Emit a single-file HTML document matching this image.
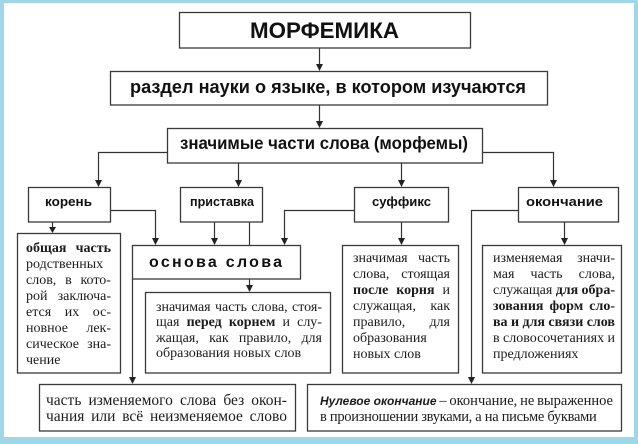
<!DOCTYPE html>
<html><head><meta charset="utf-8">
<style>
html,body{margin:0;padding:0;}
body{width:638px;height:444px;position:relative;overflow:hidden;background:#9fd7e9;}
svg{position:absolute;left:0;top:0;}
.t{position:absolute;font-family:"Liberation Serif","DejaVu Serif",serif;font-size:14px;line-height:14px;color:#1c1c1c;white-space:nowrap;}
.j{display:flex;justify-content:space-between;}
.b{font-weight:bold;}
.L{font-size:15.5px;line-height:15.5px;}
.R{font-size:14.5px;line-height:14.5px;}
.s{font-family:"Liberation Sans",Arial,sans-serif;font-weight:bold;font-style:italic;font-size:12px;}
</style></head>
<body>
<svg width="638" height="444" viewBox="0 0 638 444" xmlns="http://www.w3.org/2000/svg">
<rect x="0" y="0" width="638" height="444" fill="#9fd7e9"/>
<rect x="4" y="3" width="630" height="434" fill="#ffffff"/>
<g fill="#fff" stroke="#3a3a3a" stroke-width="1.3">
<rect x="179.5" y="12.5" width="291" height="35.5"/>
<rect x="110.5" y="71.5" width="437" height="33.5"/>
<rect x="167.5" y="128.5" width="315" height="34.5"/>
<rect x="28.5" y="187.5" width="82" height="34.5"/>
<rect x="180.5" y="187.5" width="82" height="34.5"/>
<rect x="354.5" y="187.5" width="94" height="34.5"/>
<rect x="518.5" y="187.5" width="100" height="34.5"/>
<rect x="17.5" y="233.5" width="103" height="139.5"/>
<rect x="132.5" y="245.5" width="168" height="33.5"/>
<rect x="145.5" y="292.5" width="185" height="80.5"/>
<rect x="342.5" y="245.5" width="116" height="127.5"/>
<rect x="482.5" y="245.5" width="139" height="127.5"/>
<rect x="39.5" y="384.5" width="256" height="46.5"/>
<rect x="307.5" y="384.5" width="314" height="46.5"/>
</g>
<g fill="none" stroke="#333" stroke-width="1.2">
<polyline points="319.5,48 319.5,65"/>
<polyline points="319.5,105 319.5,122"/>
<polyline points="167,152.5 98.5,152.5 98.5,181"/>
<polyline points="483,152.5 553.5,152.5 553.5,181"/>
<polyline points="238.5,163 238.5,181"/>
<polyline points="401.5,163 401.5,181"/>
<polyline points="52.5,222 52.5,228"/>
<polyline points="111,210.5 155.5,210.5 155.5,239"/>
<polyline points="214.5,222 214.5,239"/>
<polyline points="249.5,222 249.5,245"/>
<polyline points="354,210.5 284.5,210.5 284.5,239"/>
<polyline points="401.5,222 401.5,239"/>
<polyline points="564.5,222 564.5,239"/>
<polyline points="249.5,279 249.5,286"/>
<polyline points="132.5,279 132.5,378"/>
<polyline points="518,210.5 471.5,210.5 471.5,378"/>
</g>
<g fill="#222">
<polygon points="316,64 323,64 319.5,71"/>
<polygon points="316,121 323,121 319.5,128"/>
<polygon points="95,180 102,180 98.5,187"/>
<polygon points="550,180 557,180 553.5,187"/>
<polygon points="235,180 242,180 238.5,187"/>
<polygon points="398,180 405,180 401.5,187"/>
<polygon points="49,227 56,227 52.5,233"/>
<polygon points="152,238 159,238 155.5,245"/>
<polygon points="211,238 218,238 214.5,245"/>
<polygon points="281,238 288,238 284.5,245"/>
<polygon points="398,238 405,238 401.5,245"/>
<polygon points="561,238 568,238 564.5,245"/>
<polygon points="246,285 253,285 249.5,292"/>
<polygon points="129,377 136,377 132.5,384"/>
<polygon points="468,377 475,377 471.5,384"/>
</g>
<g font-family="'Liberation Sans', Arial, sans-serif" font-weight="bold" fill="#111">
<text x="250" y="38" font-size="22" textLength="149" lengthAdjust="spacingAndGlyphs">МОРФЕМИКА</text>
<text x="130" y="93" font-size="18.5" textLength="396" lengthAdjust="spacingAndGlyphs">раздел науки о языке, в котором изучаются</text>
<text x="180" y="149" font-size="17.5" textLength="288" lengthAdjust="spacingAndGlyphs">значимые части слова (морфемы)</text>
<text x="45" y="206" font-size="13" textLength="47" lengthAdjust="spacingAndGlyphs">корень</text>
<text x="190" y="206" font-size="13" textLength="64" lengthAdjust="spacingAndGlyphs">приставка</text>
<text x="372" y="206" font-size="13" textLength="59" lengthAdjust="spacingAndGlyphs">суффикс</text>
<text x="526" y="206" font-size="13" textLength="77" lengthAdjust="spacingAndGlyphs">окончание</text>
<text x="149" y="267" font-size="16" textLength="133" lengthAdjust="spacing">основа слова</text>
</g>
</svg>

<!-- корень definition -->
<div class="t j" style="left:26px;top:242.3px;width:85px"><span class="b">общая</span><span class="b">часть</span></div>
<div class="t" style="left:26px;top:258.2px">родственных</div>
<div class="t j" style="left:26px;top:274.1px;width:85px"><span>слов,</span><span>в</span><span>кото-</span></div>
<div class="t j" style="left:26px;top:290px;width:85px"><span>рой</span><span>заключа-</span></div>
<div class="t j" style="left:26px;top:305.9px;width:85px"><span>ется</span><span>их</span><span>ос-</span></div>
<div class="t j" style="left:26px;top:321.8px;width:85px"><span>новное</span><span>лек-</span></div>
<div class="t j" style="left:26px;top:337.7px;width:85px"><span>сическое</span><span>зна-</span></div>
<div class="t" style="left:26px;top:353.6px">чение</div>

<!-- приставка definition -->
<div class="t j" style="left:156px;top:300.8px;width:166px"><span>значимая</span><span>часть</span><span>слова,</span><span>стоя-</span></div>
<div class="t j" style="left:156px;top:316.3px;width:166px"><span>щая</span><span class="b">перед</span><span class="b">корнем</span><span>и</span><span>слу-</span></div>
<div class="t j" style="left:156px;top:331.8px;width:166px"><span>жащая,</span><span>как</span><span>правило,</span><span>для</span></div>
<div class="t" style="left:156px;top:347.3px">образования новых слов</div>

<!-- суффикс definition -->
<div class="t j" style="left:353px;top:251.8px;width:97px"><span>значимая</span><span>часть</span></div>
<div class="t j" style="left:353px;top:267.8px;width:97px"><span>слова,</span><span>стоящая</span></div>
<div class="t j" style="left:353px;top:283.8px;width:97px"><span class="b">после</span><span class="b">корня</span><span>и</span></div>
<div class="t j" style="left:353px;top:299.8px;width:97px"><span>служащая,</span><span>как</span></div>
<div class="t j" style="left:353px;top:315.8px;width:97px"><span>правило,</span><span>для</span></div>
<div class="t" style="left:353px;top:331.8px">образования</div>
<div class="t" style="left:353px;top:347.8px">новых слов</div>

<!-- окончание definition -->
<div class="t j" style="left:493px;top:251.8px;width:122px"><span>изменяемая</span><span>значи-</span></div>
<div class="t j" style="left:493px;top:267.8px;width:122px"><span>мая</span><span>часть</span><span>слова,</span></div>
<div class="t j" style="left:493px;top:283.8px;width:122px"><span>служащая</span><span class="b">для</span><span class="b">обра-</span></div>
<div class="t j" style="left:493px;top:299.8px;width:122px"><span class="b">зования</span><span class="b">форм</span><span class="b">сло-</span></div>
<div class="t j" style="left:493px;top:315.8px;width:122px"><span class="b">ва</span><span class="b">и</span><span class="b">для</span><span class="b">связи</span><span class="b">слов</span></div>
<div class="t j" style="left:493px;top:331.8px;width:122px"><span>в</span><span>словосочетаниях</span><span>и</span></div>
<div class="t" style="left:493px;top:347.8px">предложениях</div>

<!-- bottom-left -->
<div class="t L j" style="left:46px;top:392.5px;width:241px"><span>часть</span><span>изменяемого</span><span>слова</span><span>без</span><span>окон-</span></div>
<div class="t L j" style="left:46px;top:409px;width:241px"><span>чания</span><span>или</span><span>всё</span><span>неизменяемое</span><span>слово</span></div>

<!-- bottom-right -->
<div class="t R j" style="left:320px;top:393.5px;width:293px"><span class="s">Нулевое окончание</span><span>–</span><span>окончание,</span><span>не</span><span>выраженное</span></div>
<div class="t R" style="left:320px;top:409.8px;letter-spacing:-0.3px">в произношении звуками, а на письме буквами</div>
</body></html>
